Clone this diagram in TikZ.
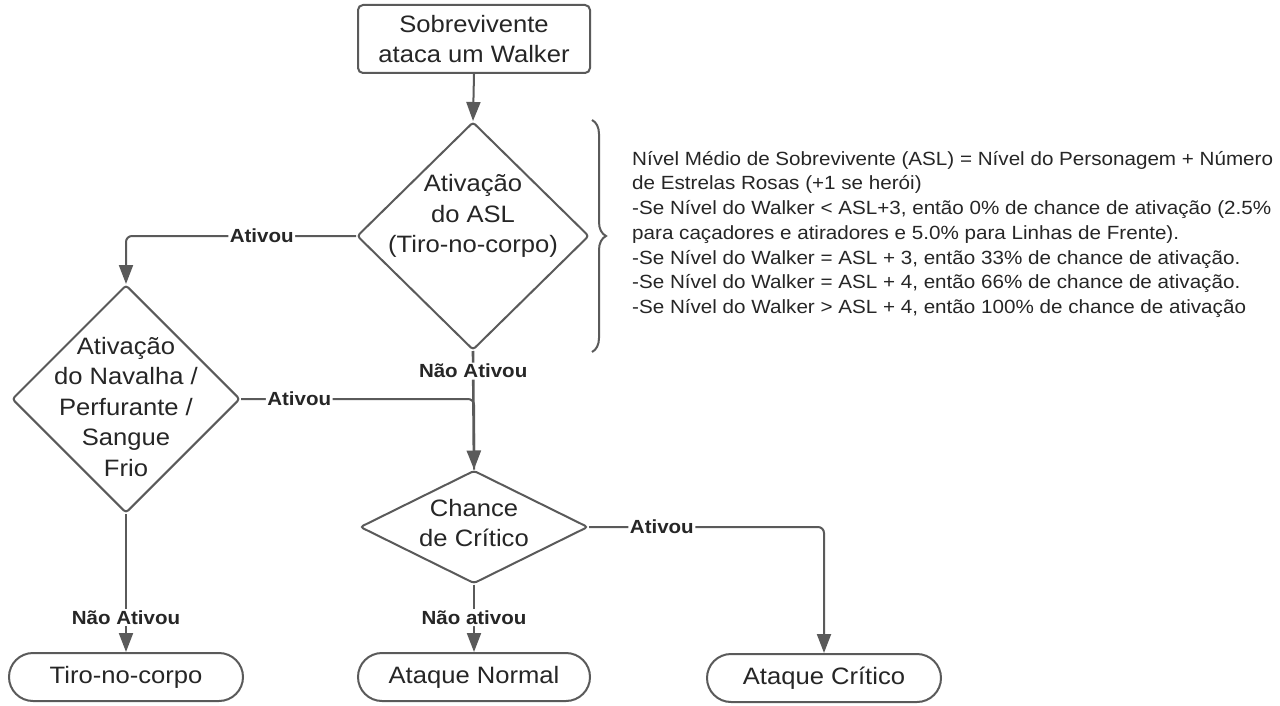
\documentclass[tikz,border=0pt]{standalone}
\usepackage{fontspec}
\setmainfont{Liberation Sans}[FakeStretch=1.08]
\usetikzlibrary{shapes.geometric,shapes.misc,arrows.meta,decorations.pathreplacing}
\definecolor{lc}{HTML}{5A5A5A}
\definecolor{tc}{HTML}{262626}
\begin{document}
\begin{tikzpicture}[x=1pt,y=-1pt,
  every node/.style={text=tc},
  boxtxt/.style={font=\fontsize{23.7}{30.5}\selectfont, align=center},
  procbox/.style={boxtxt, draw=lc, line width=2pt, rectangle, rounded corners=5pt, fill=white, inner sep=0pt},
  decbox/.style={draw=lc, line width=2pt, diamond, rounded corners=3pt, fill=white, inner sep=0pt},
  dectxt/.style={boxtxt, inner sep=0pt, text=tc},
  termbox/.style={boxtxt, draw=lc, line width=2pt, rounded rectangle, fill=white, inner sep=0pt, minimum height=48pt},
  conn/.style={draw=lc, line width=2pt, rounded corners=6pt},
  arr/.style={conn, -{Triangle[width=14pt,length=19pt]}},
  lab/.style={font=\fontsize{19}{22}\selectfont\bfseries, fill=white, inner sep=1.5pt, text=tc}
]
\useasboundingbox (0,0) rectangle (1280,706);
\fill[white] (0,0) rectangle (1280,706);

\node[procbox, minimum width=232pt, minimum height=68pt] (start) at (474,39) {Sobrevivente\\ataca um Walker};
\node[decbox, minimum width=232pt, minimum height=228pt, label={[dectxt, yshift=20pt]center:Ativação\\do ASL\\(Tiro-no-corpo)}] (d1) at (473,236) {};
\node[decbox, minimum width=228pt, minimum height=228pt, label={[dectxt, yshift=-8pt]center:Ativação\\do Navalha /\\Perfurante /\\Sangue\\Frio}] (d2) at (126,399) {};
\node[decbox, minimum width=228pt, minimum height=113pt, label={[dectxt, yshift=4pt]center:Chance\\de Crítico}] (d3) at (474,527) {};
\node[termbox, minimum width=234pt] (t1) at (126,677) {Tiro-no-corpo};
\node[termbox, minimum width=232pt] (t2) at (474,677) {Ataque Normal};
\node[termbox, minimum width=234pt] (t3) at (824,678) {Ataque Crítico};

\draw[arr] (start.south) -- (d1.north);
\draw[arr] (d1.west) -| (d2.north) node[lab, pos=0.205] {Ativou};
\draw[conn] (d2.east) -| (d3.north) node[lab, pos=0.125] {Ativou};
\draw[arr, line width=2.6pt] (d1.south) -- (d3.north) node[lab, pos=0.17] {Não Ativou};
\draw[arr] (d3.east) -| (t3.north) node[lab, pos=0.155] {Ativou};
\draw[arr] (d3.south) -- (t2.north) node[lab, pos=0.49] {Não ativou};
\draw[arr] (d2.south) -- (t1.north) node[lab, pos=0.75] {Não Ativou};

\coordinate (bt) at (592,120);
\coordinate (bb) at (592,352);
\draw[lc, line width=2pt, decorate, decoration={brace, amplitude=14pt}] (bt) -- (bb);

\node[anchor=north west, align=left, inner sep=0pt, font=\fontsize{19.1}{24.7}\selectfont] (note) at (632,151)
{Nível Médio de Sobrevivente (ASL) = Nível do Personagem + Número\\
de Estrelas Rosas (+1 se herói)\\
-Se Nível do Walker < ASL+3, então 0\% de chance de ativação (2.5\%\\
para caçadores e atiradores e 5.0\% para Linhas de Frente).\\
-Se Nível do Walker = ASL + 3, então 33\% de chance de ativação.\\
-Se Nível do Walker = ASL + 4, então 66\% de chance de ativação.\\
-Se Nível do Walker > ASL + 4, então 100\% de chance de ativação};
\end{tikzpicture}
\end{document}
